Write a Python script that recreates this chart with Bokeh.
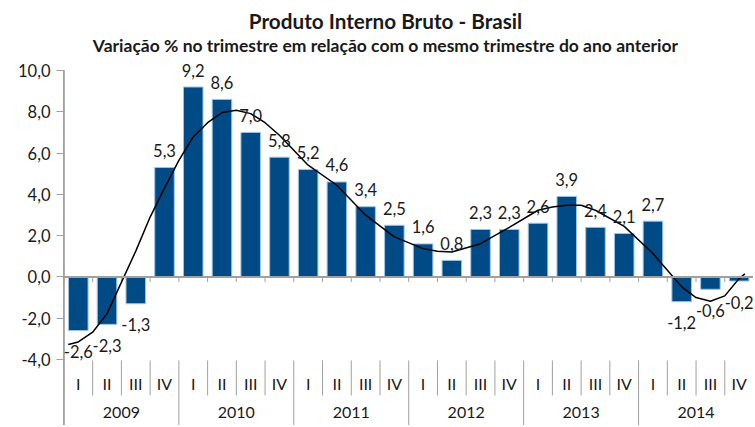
import numpy as np
from bokeh.plotting import figure
from bokeh.models import ColumnDataSource, FixedTicker, Range1d, Span, CustomJSTickFormatter
from bokeh.core.properties import value
from bokeh.embed import file_html
from bokeh.resources import INLINE

# ---- data ----
years = ["2009", "2010", "2011", "2012", "2013", "2014"]
quarters = ["I", "II", "III", "IV"]
gdp = [-2.6, -2.3, -1.3, 5.3,
       9.2, 8.6, 7.0, 5.8,
       5.2, 4.6, 3.4, 2.5,
       1.6, 0.8, 2.3, 2.3,
       2.6, 3.9, 2.4, 2.1,
       2.7, -1.2, -0.6, -0.2]
# trendline (position in quarters, value)
trend_pos = [0.65, 1, 1.5, 2, 3, 3.5, 4, 4.5, 5, 5.5, 6, 6.5, 7, 7.5, 8, 9, 10, 11, 12,
             13, 13.5, 14, 15, 16, 17, 17.5, 18, 18.5, 19, 20, 21, 22, 22.5, 23, 23.5, 24, 24.2]
trend_val = [-3.28, -3.15, -2.68, -1.78, 1.25, 2.9, 4.3, 5.65, 6.78, 7.47, 7.96, 8.07, 7.91, 7.47,
             6.86, 5.41, 4.44, 2.99, 1.94, 1.37, 1.24, 1.21, 1.61, 2.40, 3.23, 3.39, 3.47, 3.47,
             3.23, 2.45, 1.13, -0.48, -1.00, -1.18, -0.92, -0.08, 0.15]
y_ticks = [-4, -2, 0, 2, 4, 6, 8, 10]
title_text = "Produto Interno Bruto - Brasil"
subtitle_text = "Variação % no trimestre em relação com o mesmo trimestre do ano anterior"

FONT = "Lato"
TXT = "#1a1a1a"
GRAY = "#a0a0a0"

W, H = 753, 425
n = len(gdp)
x = np.arange(1, n + 1)
labels = [f"{v:.1f}".replace(".", ",") for v in gdp]
offsets = [-17 if v >= 0 else 21 for v in gdp]

# ---- layout (value units) ----
px = 20.64                       # pixels per unit on the value axis
top_px = 70                      # pixel row of the 10,0 tick
y_top = 10 + top_px / px
y_bottom = 10 - (H - top_px) / px
title_y = y_top - 20 / px
subtitle_y = y_top - 45 / px
q_label_y = -4 - 24 / px
y_label_y = -4 - 53 / px
sep_top = -4 - 1 / px
q_sep_bottom = -4 - 36 / px
x_start = 0.45
left = 62
cat_px = (W - left) / (n + 0.5 - x_start)
title_x = x_start + (385 - left) / cat_px

p = figure(width=W, height=H, x_range=Range1d(x_start, n + 0.5), y_range=Range1d(y_bottom, y_top),
           output_backend="svg", toolbar_location=None, x_axis_type=None, title=None,
           min_border_left=left, min_border_right=0, min_border_bottom=0, min_border_top=0)
p.outline_line_color = None
p.grid.grid_line_color = None
p.background_fill_color = "white"
p.border_fill_color = "white"

# titles
p.text(x=[title_x], y=[title_y], text=[title_text], text_align="center", text_baseline="middle",
       text_font=value(FONT), text_font_size="20.7px", text_font_style="bold", text_color=TXT)
p.text(x=[title_x], y=[subtitle_y], text=[subtitle_text], text_align="center", text_baseline="middle",
       text_font=value(FONT), text_font_size="17.5px", text_font_style="bold", text_color=TXT)

# y axis
ya = p.yaxis[0]
ya.ticker = FixedTicker(ticks=y_ticks)
ya.formatter = CustomJSTickFormatter(code="return tick.toFixed(1).replace('.', ',');")
ya.minor_tick_line_color = None
ya.major_tick_in = 2
ya.major_tick_out = 6
ya.major_tick_line_color = GRAY
ya.axis_line_color = None
ya.major_label_standoff = 6
ya.major_label_text_font = FONT
ya.major_label_text_font_size = "16.5px"
ya.major_label_text_color = TXT

src = ColumnDataSource(dict(x=x, v=gdp, lab=labels, off=offsets))
p.vbar(x="x", top="v", bottom=0, width=0.68, source=src,
       fill_color="#004a85", line_color="#9dc3e6", line_width=1)

# axis line of the value axis (down to the bottom, as the first year separator)
p.segment(x0=[0.5], x1=[0.5], y0=[y_bottom], y1=[max(y_ticks)], line_color="#8c8c8c", line_width=1.5)

# zero line + ticks at category boundaries
p.add_layout(Span(location=0, dimension="width", line_color=GRAY, line_width=2))
bounds = np.arange(0.5, n + 1, 1.0)
p.segment(x0=bounds, x1=bounds, y0=[0] * len(bounds), y1=[-0.25] * len(bounds),
          line_color=GRAY, line_width=1)

# trendline
p.line(trend_pos, trend_val, line_color="black", line_width=1.5)

# data labels
p.text(x="x", y="v", text="lab", source=src, text_align="center", text_baseline="middle",
       y_offset="off", text_font=value(FONT), text_font_size="16.5px", text_color=TXT)

# two-level category axis
q_names = [quarters[i % 4] for i in range(n)]
p.text(x=x, y=[q_label_y] * n, text=q_names, text_align="center", text_baseline="middle",
       text_font=value(FONT), text_font_size="16px", text_color=TXT)
year_x = [4 * i + 2.5 for i in range(len(years))]
p.text(x=year_x, y=[y_label_y] * len(years), text=years, text_align="center", text_baseline="middle",
       text_font=value(FONT), text_font_size="16px", text_color=TXT)

q_bounds = [b for i, b in enumerate(bounds) if i % 4 != 0]
y_bounds = [b for i, b in enumerate(bounds) if i % 4 == 0 and i > 0]
p.segment(x0=q_bounds, x1=q_bounds, y0=[sep_top] * len(q_bounds), y1=[q_sep_bottom] * len(q_bounds),
          line_color=GRAY, line_width=1)
p.segment(x0=y_bounds, x1=y_bounds, y0=[sep_top] * len(y_bounds), y1=[y_bottom] * len(y_bounds),
          line_color=GRAY, line_width=1)

open("out.html", "w").write(file_html(p, INLINE))
